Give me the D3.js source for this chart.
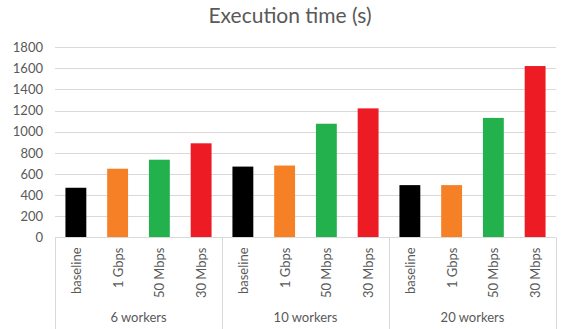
<!DOCTYPE html>
<html><head><meta charset="utf-8">
<script src="https://cdn.jsdelivr.net/npm/d3@7"></script>
<style>body{margin:0;background:#fff;} svg{display:block;}</style>
</head><body>
<svg id="c" width="566" height="329"></svg>
<script>
const groups = ["6 workers", "10 workers", "20 workers"];
const conditions = ["baseline", "1 Gbps", "50 Mbps", "30 Mbps"];
const baseline = [470, 670, 495];
const gbps1 = [650, 680, 495];
const mbps50 = [735, 1075, 1130];
const mbps30 = [890, 1220, 1620];
const yTicks = [0, 200, 400, 600, 800, 1000, 1200, 1400, 1600, 1800];
const colors = ["#000000", "#f58025", "#22b14c", "#ed1c24"];
const title = "Execution time (s)";

(function () {
const series = [baseline, gbps1, mbps50, mbps30];
const svg = d3.select("#c");
const W = 566, H = 329;
const pLeft = 55, pRight = 556, pTop = 47, pBottom = 237.5;
const font = "Lato, 'Open Sans', sans-serif";
const textColor = "#595959";

const x0 = d3.scaleBand().domain(groups).range([pLeft, pRight]).padding(0);
const x1 = d3.scaleBand().domain(conditions).range([0, x0.bandwidth()]).paddingInner(0.5).paddingOuter(0.25);
const y = d3.scaleLinear().domain([0, 1800]).range([pBottom, pTop]);

svg.append("g").selectAll("line").data(yTicks.slice(1)).join("line")
  .attr("x1", pLeft).attr("x2", pRight)
  .attr("y1", d => Math.round(y(d)) + 0.5).attr("y2", d => Math.round(y(d)) + 0.5)
  .attr("stroke", "#d9d9d9").attr("stroke-width", 1);

const yAxis = d3.axisLeft(y).tickValues(yTicks).tickFormat(d3.format("d")).tickSize(0).tickPadding(12);
const ya = svg.append("g").attr("transform", `translate(${pLeft},0)`).call(yAxis);
ya.select(".domain").remove();
ya.selectAll("text").attr("font-family", font).attr("font-size", 13).attr("fill", textColor);

const data = [];
groups.forEach((g, gi) => conditions.forEach((c, ci) => data.push({g, c, ci, v: series[ci][gi]})));
svg.append("g").selectAll("rect").data(data).join("rect")
  .attr("x", d => x0(d.g) + x1(d.c))
  .attr("width", x1.bandwidth())
  .attr("y", d => y(d.v))
  .attr("height", d => y(0) - y(d.v))
  .attr("fill", d => colors[d.ci]);

svg.append("line").attr("x1", pLeft).attr("x2", pRight).attr("y1", pBottom).attr("y2", pBottom)
  .attr("stroke", "#d9d9d9");
const seps = groups.map(g => x0(g)).concat([pRight]);
svg.append("g").selectAll("line").data(seps).join("line")
  .attr("x1", d => Math.round(d) + 0.5).attr("x2", d => Math.round(d) + 0.5)
  .attr("y1", pBottom).attr("y2", H)
  .attr("stroke", "#d9d9d9");

svg.append("g").selectAll("text").data(data).join("text")
  .attr("transform", d => `translate(${x0(d.g) + x1(d.c) + x1.bandwidth() / 2 + 5},${pBottom + 10}) rotate(-90)`)
  .attr("text-anchor", "end")
  .attr("font-family", font).attr("font-size", 13).attr("fill", textColor)
  .text(d => d.c);

svg.append("g").selectAll("text").data(groups).join("text")
  .attr("x", g => x0(g) + x0.bandwidth() / 2)
  .attr("y", 322)
  .attr("text-anchor", "middle")
  .attr("font-family", font).attr("font-size", 13).attr("fill", textColor)
  .text(g => g);

svg.append("text").attr("x", 290).attr("y", 23).attr("text-anchor", "middle")
  .attr("font-family", font).attr("font-size", 21).attr("fill", textColor)
  .text(title);
})();
</script>
</body></html>
